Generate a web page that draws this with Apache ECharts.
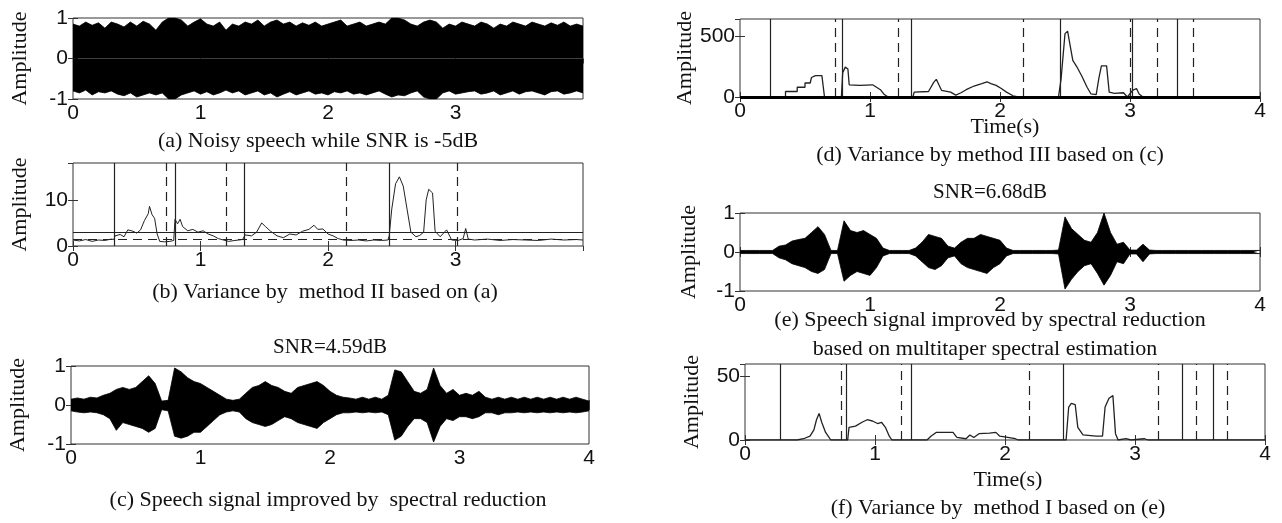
<!DOCTYPE html>
<html lang="en">
<head>
<meta charset="UTF-8" />
<title>Variance figure</title>
<style>
  html, body { margin: 0; padding: 0; background: #fff; }
  #main { width: 1282px; height: 523px; }
</style>
</head>
<body>
<div id="main"></div>
<script src="https://cdn.jsdelivr.net/npm/echarts@6/dist/echarts.min.js"></script>
<script>
// envelope step of the waveform panels (seconds)
var STEP = 0.05;

// (a) noisy speech, SNR -5dB : upper / lower envelope
var aUpper = [
  0.85,0.80,0.90,0.82,0.88,0.75,0.90,0.85,0.78,0.90,
  0.80,0.92,0.85,0.70,0.90,1.00,1.00,0.95,0.80,0.90,
  0.98,0.85,0.80,0.90,0.70,0.85,0.80,0.90,0.85,0.95,
  0.80,0.90,0.95,0.85,0.90,0.80,0.88,0.82,0.90,0.80,
  0.85,0.90,0.95,0.80,0.85,0.90,0.80,0.85,0.90,0.85,
  1.00,1.00,0.95,0.85,0.80,0.90,0.95,0.90,0.75,0.85,
  0.80,0.90,0.85,0.80,0.90,0.85,0.75,0.85,0.80,0.90,
  0.85,0.80,0.90,0.85,0.80,0.88,0.82,0.90,0.80,0.85,
  0.80
];
var aLower = [
  -0.80,-0.85,-0.78,-0.90,-0.82,-0.85,-0.80,-0.88,-0.92,-0.85,
  -0.95,-0.90,-0.85,-0.90,-0.85,-1.00,-1.00,-0.90,-0.85,-0.80,
  -0.88,-0.82,-0.90,-0.85,-0.78,-0.85,-0.80,-0.90,-0.85,-0.80,
  -0.90,-0.85,-0.95,-0.88,-0.82,-0.90,-0.85,-0.80,-0.88,-0.85,
  -0.90,-0.82,-0.85,-0.80,-0.88,-0.85,-0.90,-0.85,-0.80,-0.88,
  -0.95,-0.90,-0.92,-0.85,-0.80,-0.95,-1.00,-1.00,-0.85,-0.80,
  -0.88,-0.85,-0.82,-0.80,-0.88,-0.85,-0.80,-0.90,-0.85,-0.80,
  -0.88,-0.82,-0.80,-0.85,-0.90,-0.82,-0.80,-0.88,-0.85,-0.80,
  -0.85
];

// (c) spectral reduction, SNR 4.59dB
var cUpper = [
  0.15,0.18,0.15,0.20,0.18,0.25,0.30,0.40,0.45,0.40,
  0.45,0.60,0.75,0.55,0.10,0.12,0.95,0.85,0.70,0.60,
  0.55,0.45,0.35,0.25,0.15,0.12,0.15,0.30,0.45,0.50,
  0.60,0.50,0.45,0.35,0.30,0.45,0.50,0.55,0.60,0.50,
  0.35,0.25,0.20,0.18,0.15,0.20,0.15,0.20,0.15,0.25,
  0.90,0.85,0.60,0.35,0.30,0.40,0.95,0.50,0.30,0.40,
  0.25,0.30,0.25,0.35,0.20,0.15,0.20,0.15,0.20,0.15,
  0.20,0.15,0.20,0.15,0.20,0.15,0.20,0.15,0.20,0.15,
  0.10
];
var cLower = [
  -0.15,-0.18,-0.20,-0.18,-0.20,-0.25,-0.35,-0.65,-0.45,-0.50,
  -0.55,-0.60,-0.70,-0.60,-0.12,-0.15,-0.80,-0.85,-0.80,-0.70,
  -0.70,-0.55,-0.40,-0.25,-0.18,-0.15,-0.18,-0.35,-0.45,-0.50,
  -0.55,-0.50,-0.40,-0.30,-0.35,-0.45,-0.50,-0.55,-0.60,-0.45,
  -0.35,-0.25,-0.20,-0.20,-0.18,-0.20,-0.18,-0.20,-0.18,-0.25,
  -0.90,-0.80,-0.55,-0.35,-0.35,-0.45,-0.95,-0.55,-0.35,-0.40,
  -0.30,-0.30,-0.35,-0.30,-0.20,-0.20,-0.25,-0.20,-0.20,-0.18,
  -0.20,-0.18,-0.20,-0.18,-0.20,-0.18,-0.20,-0.18,-0.20,-0.18,
  -0.15
];

// (e) multitaper spectral reduction, SNR 6.68dB
var eUpper = [
  0.04,0.04,0.04,0.04,0.04,0.04,0.15,0.18,0.28,0.32,
  0.35,0.50,0.65,0.45,0.04,0.04,0.80,0.55,0.50,0.55,
  0.45,0.35,0.10,0.04,0.04,0.04,0.04,0.10,0.25,0.45,
  0.40,0.35,0.15,0.10,0.25,0.35,0.35,0.45,0.40,0.35,
  0.30,0.10,0.04,0.04,0.04,0.04,0.04,0.04,0.04,0.05,
  0.90,0.60,0.45,0.30,0.25,0.50,1.00,0.50,0.20,0.25,
  0.05,0.05,0.20,0.05,0.04,0.04,0.04,0.04,0.04,0.04,
  0.04,0.04,0.04,0.04,0.04,0.04,0.04,0.04,0.04,0.04,
  0.04
];
var eLower = [
  -0.04,-0.04,-0.04,-0.04,-0.04,-0.04,-0.15,-0.20,-0.30,-0.35,
  -0.40,-0.50,-0.55,-0.45,-0.04,-0.04,-0.75,-0.60,-0.50,-0.55,
  -0.60,-0.40,-0.10,-0.04,-0.04,-0.04,-0.04,-0.10,-0.25,-0.40,
  -0.45,-0.35,-0.15,-0.10,-0.30,-0.40,-0.45,-0.50,-0.55,-0.40,
  -0.30,-0.10,-0.04,-0.04,-0.04,-0.04,-0.04,-0.04,-0.04,-0.05,
  -0.95,-0.70,-0.50,-0.35,-0.30,-0.55,-0.85,-0.60,-0.25,-0.30,
  -0.05,-0.05,-0.25,-0.05,-0.04,-0.04,-0.04,-0.04,-0.04,-0.04,
  -0.04,-0.04,-0.04,-0.04,-0.04,-0.04,-0.04,-0.04,-0.04,-0.04,
  -0.04
];

// (b) variance by method II, [time, value]
var varB = [[0,1.3],[0.05,1.1],[0.1,1.4],[0.15,1.0],[0.2,1.3],[0.25,1.2],[0.3,1.5],[0.32,1.4],[0.33,2.2],[0.37,2.5],
  [0.4,2.0],[0.43,3.5],[0.47,3.2],[0.5,2.8],[0.53,3.5],[0.56,5.5],[0.59,7.0],[0.6,8.6],[0.62,6.8],[0.64,6.0],
  [0.66,2.6],[0.68,1.0],[0.72,0.9],[0.76,1.0],[0.79,1.2],[0.8,5.8],[0.82,4.8],[0.84,5.8],[0.86,4.2],[0.9,3.3],
  [0.94,3.6],[0.98,3.0],[1.02,3.3],[1.06,2.6],[1.1,2.2],[1.14,1.6],[1.18,1.3],[1.22,1.0],[1.27,1.2],[1.33,1.4],
  [1.35,2.4],[1.4,2.2],[1.44,3.0],[1.48,5.0],[1.51,4.2],[1.55,3.2],[1.6,2.2],[1.65,1.8],[1.7,2.6],[1.75,2.4],
  [1.8,3.2],[1.85,3.6],[1.89,4.5],[1.92,3.6],[1.96,3.7],[2.0,2.6],[2.04,2.2],[2.08,1.6],[2.12,1.3],[2.18,1.2],
  [2.24,1.3],[2.3,1.1],[2.36,1.3],[2.42,1.2],[2.47,1.3],[2.48,2.2],[2.5,8.0],[2.53,13.5],[2.56,15.0],[2.59,13.0],
  [2.62,8.0],[2.65,3.0],[2.69,2.0],[2.72,2.3],[2.75,3.0],[2.77,10.0],[2.79,12.3],[2.82,11.5],[2.84,3.2],[2.88,2.0],
  [2.93,3.5],[2.97,1.3],[3.02,1.2],[3.06,1.6],[3.08,3.8],[3.1,1.5],[3.15,1.3],[3.25,1.5],[3.35,1.2],[3.45,1.4],
  [3.55,1.3],[3.65,1.2],[3.75,1.5],[3.85,1.3],[3.95,1.4],[4.0,1.3]];
var bLevels = { solid: 3.0, dashed: 1.5 };
var bSolid = [0.32, 0.795, 1.34, 2.48];
var bDashed = [0.73, 1.20, 2.14, 3.01];

// (d) variance by method III
var varD = [[0,0],[0.35,0],[0.35,45],[0.44,45],[0.44,80],[0.5,80],[0.5,115],[0.54,115],[0.55,160],[0.58,175],
  [0.63,175],[0.65,0],[0.78,0],[0.79,200],[0.81,245],[0.83,230],[0.84,100],[0.92,95],[1.02,100],[1.05,80],
  [1.08,60],[1.11,20],[1.14,0],[1.33,0],[1.34,40],[1.45,45],[1.49,120],[1.51,145],[1.53,100],[1.55,55],
  [1.62,40],[1.66,15],[1.7,35],[1.74,60],[1.8,90],[1.86,110],[1.9,125],[1.93,110],[1.97,95],[2.01,70],
  [2.05,40],[2.1,10],[2.14,0],[2.45,0],[2.47,150],[2.5,520],[2.52,540],[2.54,420],[2.56,300],[2.59,250],
  [2.63,170],[2.67,80],[2.7,25],[2.74,20],[2.76,150],[2.78,255],[2.82,255],[2.84,40],[2.88,30],[2.95,35],
  [2.98,0],[3.02,55],[3.05,70],[3.07,25],[3.1,0],[4,0]];
var dSolid = [0.235, 0.79, 1.32, 2.455, 3.02, 3.36];
var dDashed = [0.735, 1.215, 2.18, 3.005, 3.215, 3.49];

// (f) variance by method I
var varF = [[0,0],[0.4,0],[0.45,1],[0.5,3],[0.53,8],[0.55,16],[0.57,21],[0.59,14],[0.62,6],[0.64,3],
  [0.66,0],[0.79,0],[0.8,10],[0.85,11],[0.9,14],[0.94,16],[0.98,15],[1.02,13],[1.05,14],[1.08,10],
  [1.11,3],[1.13,0],[1.4,0],[1.43,3],[1.47,6],[1.5,6],[1.6,6],[1.63,2],[1.7,1],[1.73,4],
  [1.76,2],[1.8,5],[1.88,5.5],[1.93,6],[1.96,3],[2.02,2],[2.08,1],[2.1,0],[2.47,0],[2.49,26],
  [2.51,29],[2.54,28],[2.56,10],[2.6,4],[2.7,3],[2.75,3],[2.77,26],[2.8,33],[2.83,35],[2.85,5],
  [2.87,0],[2.93,1],[2.97,0],[3.07,1],[3.1,0],[4,0]];
var fSolid = [0.274, 0.775, 1.28, 2.45, 3.36, 3.60];
var fDashed = [0.74, 1.20, 2.19, 3.18, 3.47, 3.71];

var SANS = '"Liberation Sans", Arial, sans-serif';
var SERIF = '"Liberation Serif", "Times New Roman", serif';
var INK = '#111';

var myChart = echarts.init(document.getElementById('main'), null, { renderer: 'canvas' });

// grid boxes: left, top, width, height
var boxes = [
  [73, 18, 510, 81],   // a
  [73, 163, 510, 83],  // b
  [71, 366, 518, 78],  // c
  [740, 19, 520, 78],  // d
  [740, 213, 520, 78], // e
  [745, 364, 520, 76]  // f
];
// y ranges: min, max, interval, show max label, show x max label, name gap
var yCfg = [
  [-1, 1, 1, true, false, 42],
  [0, 18, 10, false, false, 42],
  [-1, 1, 1, true, true, 42],
  [0, 640, 500, false, true, 40],
  [-1, 1, 1, true, true, 40],
  [0, 60, 50, false, true, 42]
];

var grids = [], xAxes = [], yAxes = [];
boxes.forEach(function (b, i) {
  var c = yCfg[i];
  grids.push({ left: b[0], top: b[1], width: b[2], height: b[3], show: true,
    borderColor: '#333', borderWidth: 1, backgroundColor: 'transparent' });
  var tick = { show: true, inside: true, length: 5, lineStyle: { color: '#333', width: 1 } };
  xAxes.push({ gridIndex: i, type: 'value', min: 0, max: 4, interval: 1,
    axisLine: { show: false }, axisTick: tick, splitLine: { show: false },
    axisLabel: { color: INK, fontFamily: SANS, fontSize: 21, margin: 4, showMaxLabel: c[4] } });
  xAxes.push({ gridIndex: i, type: 'value', min: 0, max: 4, interval: 1, position: 'top',
    axisLine: { show: false }, axisTick: tick, splitLine: { show: false }, axisLabel: { show: false } });
  yAxes.push({ gridIndex: i, type: 'value', min: c[0], max: c[1], interval: c[2],
    name: 'Amplitude', nameLocation: 'middle', nameGap: c[5], nameRotate: 90,
    nameTextStyle: { color: INK, fontFamily: SERIF, fontSize: 22 },
    axisLine: { show: false }, axisTick: tick, splitLine: { show: false },
    axisLabel: { color: INK, fontFamily: SANS, fontSize: 21, margin: 5, showMaxLabel: c[3] } });
  yAxes.push({ gridIndex: i, type: 'value', min: c[0], max: c[1], interval: c[2], position: 'right',
    axisLine: { show: false }, axisTick: tick, splitLine: { show: false }, axisLabel: { show: false } });
});

function toPairs(arr) {
  return arr.map(function (v, i) { return [Math.round(i * STEP * 100) / 100, v]; });
}

// a waveform drawn as its filled envelope
function band(gi, data) {
  return { type: 'line', xAxisIndex: gi * 2, yAxisIndex: gi * 2, data: toPairs(data),
    showSymbol: false, silent: true, animation: false,
    lineStyle: { color: '#000', width: 0.8 },
    areaStyle: { color: '#000', opacity: 1, origin: 0 } };
}

function vLines(solid, dashed) {
  var d = [];
  solid.forEach(function (t) { d.push({ xAxis: t, lineStyle: { type: 'solid', color: '#222', width: 1.2 } }); });
  dashed.forEach(function (t) { d.push({ xAxis: t, lineStyle: { type: [9, 6], color: '#222', width: 1.2 } }); });
  return d;
}

function trace(gi, data, marks, w) {
  return { type: 'line', xAxisIndex: gi * 2, yAxisIndex: gi * 2, data: data,
    showSymbol: false, silent: true, animation: false,
    lineStyle: { color: '#222', width: w || 1.2 },
    markLine: { symbol: 'none', silent: true, animation: false, label: { show: false }, data: marks } };
}

var bMarks = vLines(bSolid, bDashed).concat([
  { yAxis: bLevels.solid, lineStyle: { type: 'solid', color: '#222', width: 1.2 } },
  { yAxis: bLevels.dashed, lineStyle: { type: [9, 6], color: '#222', width: 1.2 } }
]);
var dMarks = vLines(dSolid, dDashed).concat([
  { yAxis: 0, lineStyle: { type: 'solid', color: '#000', width: 3 } }
]);
var fMarks = vLines(fSolid, fDashed);

var series = [
  band(0, aUpper), band(0, aLower),
  trace(1, varB, bMarks, 1),
  band(2, cUpper), band(2, cLower),
  trace(3, varD, dMarks, 1.3),
  band(4, eUpper), band(4, eLower),
  trace(5, varF, fMarks, 1.3)
];

function txt(s, x, y, size) {
  return { type: 'text', x: x, y: y, silent: true,
    style: { text: s, fill: INK, font: (size || 22) + 'px ' + SERIF,
      textAlign: 'center', textVerticalAlign: 'middle', align: 'center', verticalAlign: 'middle' } };
}

var captions = [
  txt('(a) Noisy speech while SNR is -5dB', 318, 141),
  txt('(b) Variance by  method II based on (a)', 325, 292),
  txt('SNR=4.59dB', 330, 347, 21),
  txt('(c) Speech signal improved by  spectral reduction', 328, 500),
  txt('Time(s)', 1005, 127),
  txt('(d) Variance by method III based on (c)', 990, 155),
  txt('SNR=6.68dB', 990, 192, 21),
  txt('(e) Speech signal improved by spectral reduction', 990, 320),
  txt('based on multitaper spectral estimation', 985, 349),
  txt('Time(s)', 1008, 480),
  txt('(f) Variance by  method I based on (e)', 998, 508)
];

var option = {
  backgroundColor: '#fff',
  animation: false,
  grid: grids,
  xAxis: xAxes,
  yAxis: yAxes,
  series: series,
  graphic: captions
};

myChart.setOption(option);
</script>
</body>
</html>
